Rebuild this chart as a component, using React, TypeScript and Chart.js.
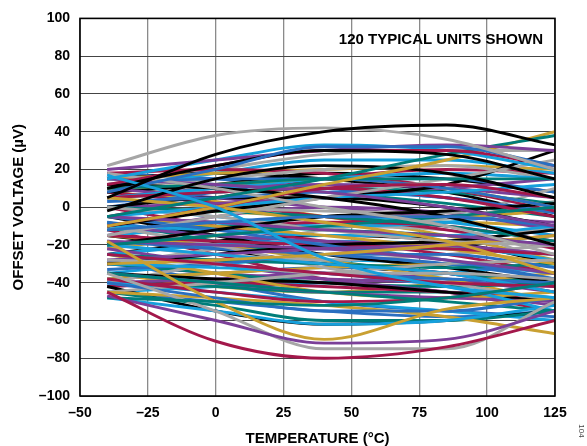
import React, { useEffect, useRef } from "react";
import { Chart, registerables } from "chart.js";

Chart.register(...registerables);

// Temperatures (°C) at which each unit's offset voltage is read
const temps = [-40, 0, 40, 85, 125];

// Offset voltage (µV) per unit, grouped by drawing colour
const blackUnits = [
  [5, 28, 40, 43.5, 33], [10, 22, 30, 28, 15], [-2, 15, 22, 18, 5], [12, 10, 5, -5, -20],
  [-10, -2, 5, 12, 30], [-20, -12, -5, -2, 2], [-30, -25, -20, -18, -12], [-42, -55, -62, -60, -55],
  [-35, -38, -40, -45, -50], [0, 5, 5, 0, -10], [-5, -15, -25, -32, -40], [15, 18, 15, 8, -5],
  [-25, -18, -15, -18, -30], [8, 12, 18, 15, 8], [-15, -22, -30, -35, -38],
];
const grayUnits = [
  [22, 38, 42, 36, 20], [-35, -55, -75, -75, -50], [18, 10, 0, -10, -25], [-15, -5, 5, 15, 25],
  [-28, -30, -35, -35, -38], [0, -5, -12, -18, -20], [-45, -40, -35, -30, -28], [10, 15, 20, 22, 15],
  [-10, -20, -32, -40, -50], [-40, -30, -25, -20, -10], [5, 0, -2, -3, 10], [-20, -25, -28, -25, -20],
  [12, 20, 28, 30, 30], [-30, -22, -12, -6, 3], [-5, -8, -10, -12, -30],
];
const crimsonUnits = [
  [-45, -71, -80, -74, -60], [12, 22, 30, 30, 22], [-10, 0, 10, 12, 5], [-25, -30, -35, -40, -42],
  [5, 8, 10, 5, -5], [-38, -45, -50, -48, -40], [-15, -18, -20, -22, -25], [18, 20, 18, 10, -2],
  [-30, -28, -30, -35, -45], [0, -10, -18, -25, -35], [-20, -12, -8, -10, -18], [-5, 5, 15, 20, 18],
  [-42, -40, -42, -45, -48], [8, 2, -5, -12, -22], [-12, -25, -38, -45, -55],
];
const purpleUnits = [
  [-47, -60, -72, -70, -55], [20, 25, 30, 33, 30], [15, 12, 8, 0, -10], [-5, -8, -12, -15, -20],
  [-18, -20, -22, -28, -35], [-28, -25, -22, -20, -15], [5, 10, 12, 10, 5], [-35, -40, -45, -48, -50],
  [-10, -15, -18, -20, -25], [0, 2, 5, 10, 15], [-22, -30, -38, -45, -52], [10, 5, 0, -5, -8],
  [-40, -38, -35, -38, -45], [-15, -5, 0, -3, -12], [-30, -35, -38, -40, -42],
];
const tealUnits = [
  [-48, -50, -52, -48, -40], [-5, 5, 15, 28, 38], [10, 12, 15, 15, 15], [-20, -15, -10, -5, 0],
  [-35, -40, -45, -50, -55], [0, -2, -5, -10, -18], [-45, -52, -60, -60, -55], [-25, -28, -30, -32, -30],
  [5, 8, 10, 8, 2], [-12, -10, -12, -15, -20], [-30, -35, -40, -42, -40], [15, 12, 8, 2, -5],
  [-40, -42, -45, -45, -48], [-8, -18, -28, -35, -40], [-15, -20, -22, -22, -25],
];
const skyUnits = [
  [17, 0, -27, -42, -48], [15, 25, 33, 30, 20], [-48, -55, -62, -60, -52], [-5, 0, 5, 8, 12],
  [-20, -25, -30, -35, -45], [5, 10, 15, 18, 15], [-30, -32, -35, -42, -55], [-10, -12, -15, -15, -10],
  [-40, -45, -50, -55, -60], [10, 18, 25, 25, 18], [-25, -20, -18, -20, -28], [0, -5, -10, -8, 0],
  [-35, -30, -28, -30, -35], [-15, -10, -5, -8, -15], [-45, -42, -40, -35, -30],
];
const blueUnits = [
  [8, 20, 32, 32, 22], [-40, -48, -55, -55, -48], [-12, -8, -5, -5, -10], [12, 15, 15, 10, 0],
  [-25, -30, -35, -38, -40], [-5, -12, -20, -28, -38], [-33, -30, -25, -25, -32], [3, 5, 8, 5, -3],
  [-18, -22, -25, -30, -38], [-45, -50, -55, -58, -55], [0, 8, 15, 15, 8], [-8, -15, -20, -18, -12],
  [-28, -40, -50, -55, -58], [18, 15, 10, 5, -2], [-38, -35, -32, -35, -42],
];
const goldUnits = [
  [-18, -50, -70, -54, -48], [-10, 0, 12, 25, 40], [5, 0, -8, -18, -35], [-30, -28, -25, -20, -15],
  [10, 12, 15, 10, 0], [-45, -48, -52, -58, -67], [-5, -10, -15, -22, -30], [-25, -35, -45, -48, -45],
  [15, 18, 20, 22, 20], [-38, -35, -32, -30, -28], [0, -2, -5, -5, -2], [-15, -20, -28, -38, -50],
  [-35, -42, -45, -40, -35], [-22, -15, -10, -8, -10], [8, 3, -5, -15, -28],
];

const groups = [
  { color: "#000000", units: blackUnits },
  { color: "#a6a6a6", units: grayUnits },
  { color: "#a3184b", units: crimsonUnits },
  { color: "#7b3f98", units: purpleUnits },
  { color: "#007d79", units: tealUnits },
  { color: "#16a0dc", units: skyUnits },
  { color: "#2a6fc0", units: blueUnits },
  { color: "#c9a032", units: goldUnits },
];

const xTicks = [-50, -25, 0, 25, 50, 75, 100, 125];
const yTicks = [-100, -80, -60, -40, -20, 0, 20, 40, 60, 80, 100];

const FONT = "'Liberation Sans', Arial, Helvetica, sans-serif";
const fmt = (v: number) => (v < 0 ? "\u2013" + Math.abs(v) : String(v));

const decorPlugin = {
  id: "decor",
  afterDraw(chart: any) {
    const { ctx, chartArea } = chart;
    const { left, right, top, bottom } = chartArea;
    ctx.save();
    ctx.strokeStyle = "#000";
    ctx.lineWidth = 1.6;
    ctx.strokeRect(left, top, right - left, bottom - top);
    ctx.fillStyle = "#000";
    ctx.font = `bold 15px ${FONT}`;
    ctx.textAlign = "right";
    ctx.textBaseline = "alphabetic";
    ctx.fillText("120 TYPICAL UNITS SHOWN", 543, 43.5);
    ctx.textAlign = "center";
    ctx.textBaseline = "middle";
    ctx.fillText("TEMPERATURE (\u00B0C)", (left + right) / 2, 439);
    ctx.save();
    ctx.translate(19, (top + bottom) / 2);
    ctx.rotate(-Math.PI / 2);
    ctx.fillText("OFFSET VOLTAGE (\u00B5V)", 0, 0);
    ctx.restore();
    ctx.save();
    ctx.translate(581, 431);
    ctx.rotate(Math.PI / 2);
    ctx.font = `8px ${FONT}`;
    ctx.fillStyle = "#444";
    ctx.fillText("104", 0, 0);
    ctx.restore();
    ctx.restore();
  },
};

export default function App() {
  const ref = useRef<HTMLCanvasElement>(null);
  useEffect(() => {
    document.body.style.margin = "0";
    const datasets: any[] = [];
    for (let i = 0; i < 15; i++) {
      for (const g of groups) {
        const u = g.units[i];
        if (!u) continue;
        datasets.push({
          data: temps.map((t, k) => ({ x: t, y: u[k] })),
          borderColor: g.color,
          borderWidth: 2.9,
          pointRadius: 0,
          fill: false,
          cubicInterpolationMode: "monotone",
        });
      }
    }
    const chart = new Chart(ref.current!, {
      type: "line",
      data: { datasets },
      options: {
        animation: false,
        responsive: false,
        maintainAspectRatio: false,
        layout: { padding: { top: 15, right: 32, left: 0, bottom: 0 } },
        plugins: { legend: { display: false }, tooltip: { enabled: false } },
        scales: {
          x: {
            type: "linear",
            min: -50,
            max: 125,
            afterBuildTicks: (s: any) => { s.ticks = xTicks.map((v) => ({ value: v })); },
            afterFit: (s: any) => { s.height = 50; },
            grid: { color: "#8a8a8a", lineWidth: 1.3, drawTicks: false },
            border: { display: false },
            ticks: {
              padding: 9,
              color: "#000",
              font: { family: FONT, size: 14, weight: "bold" },
              callback: (v: any) => fmt(Number(v)),
              maxRotation: 0,
            },
          },
          y: {
            type: "linear",
            min: -100,
            max: 100,
            afterBuildTicks: (s: any) => { s.ticks = yTicks.map((v) => ({ value: v })); },
            afterFit: (s: any) => { s.width = 80; },
            grid: { color: "#444", lineWidth: 1, drawTicks: false },
            border: { display: false },
            ticks: {
              padding: 10,
              color: "#000",
              font: { family: FONT, size: 14, weight: "bold" },
              callback: (v: any) => fmt(Number(v)),
            },
          },
        },
      },
      plugins: [decorPlugin],
    } as any);
    return () => chart.destroy();
  }, []);
  return (
    <div style={{ width: 587, height: 446, background: "#fff" }}>
      <canvas ref={ref} width={587} height={446} style={{ display: "block" }} />
    </div>
  );
}
